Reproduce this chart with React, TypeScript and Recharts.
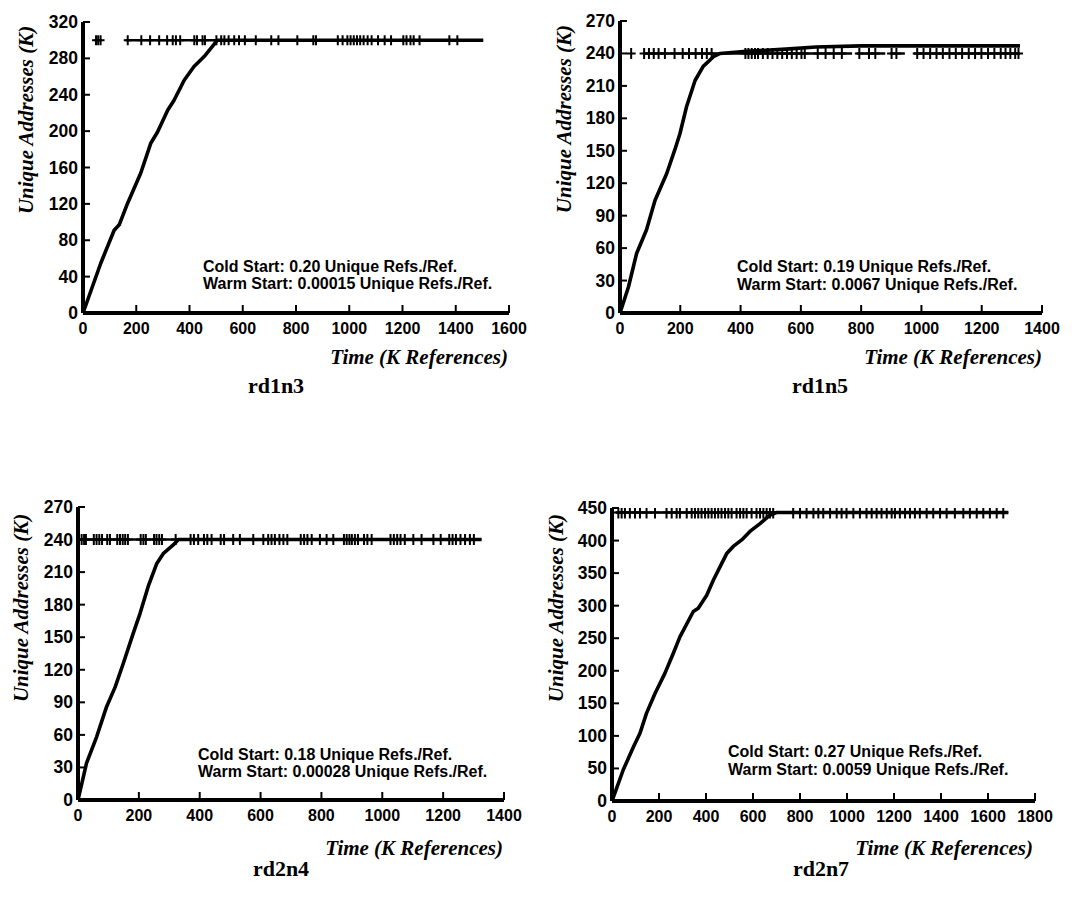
import React from 'react';
import { LineChart, Line, XAxis, YAxis } from 'recharts';

// ---------- rd1n3 ----------
const rd1n3ColdTime = [0, 67, 117, 136, 168, 217, 255, 280, 318, 342, 380, 417, 455, 505, 1503];
const rd1n3ColdAddr = [0, 55, 91, 97, 121, 154, 187, 199, 223, 234, 256, 271, 282, 300, 300];
const rd1n3WarmTime = [49, 57, 66, 168, 219, 252, 286, 316, 337, 349, 365, 418, 428, 449, 458, 501, 519, 531, 547, 568, 586, 608, 649, 707, 734, 805, 865, 875, 957, 975, 993, 1005, 1017, 1029, 1041, 1054, 1069, 1084, 1108, 1133, 1157, 1203, 1215, 1230, 1242, 1264, 1376, 1406];
const rd1n3WarmSegments = [[160, 1503]];
const rd1n3WarmLevel = 300;
const rd1n3XTicks = [0, 200, 400, 600, 800, 1000, 1200, 1400, 1600];
const rd1n3YTicks = [0, 40, 80, 120, 160, 200, 240, 280, 320];

// ---------- rd1n5 ----------
const rd1n5ColdTime = [0, 28, 55, 88, 116, 155, 182, 199, 221, 249, 276, 310, 332, 420, 550, 650, 800, 1327];
const rd1n5ColdAddr = [0, 24, 55, 77, 104, 129, 151, 166, 191, 215, 228, 237, 240, 242, 244, 246, 247, 247];
const rd1n5WarmTime = [37, 80, 96, 112, 128, 149, 181, 208, 229, 251, 272, 288, 304, 416, 426, 437, 448, 458, 474, 490, 506, 522, 538, 554, 570, 586, 602, 613, 656, 682, 709, 736, 794, 826, 847, 901, 917, 986, 1007, 1029, 1050, 1071, 1093, 1114, 1135, 1157, 1178, 1199, 1221, 1242, 1263, 1279, 1295, 1311, 1322];
const rd1n5WarmSegments = [[80, 770], [785, 880], [895, 945], [975, 1327]];
const rd1n5WarmLevel = 240;
const rd1n5XTicks = [0, 200, 400, 600, 800, 1000, 1200, 1400];
const rd1n5YTicks = [0, 30, 60, 90, 120, 150, 180, 210, 240, 270];

// ---------- rd2n4 ----------
const rd2n4ColdTime = [0, 28, 61, 94, 122, 149, 182, 204, 231, 259, 280, 313, 330, 1326];
const rd2n4ColdAddr = [0, 34, 58, 86, 104, 126, 154, 172, 197, 218, 227, 235, 240, 240];
const rd2n4WarmTime = [12, 20, 26, 52, 61, 70, 79, 96, 105, 129, 138, 147, 155, 164, 206, 215, 223, 250, 258, 267, 276, 321, 370, 381, 395, 414, 425, 439, 469, 480, 510, 532, 576, 609, 625, 636, 647, 662, 675, 688, 732, 743, 754, 768, 795, 817, 839, 874, 883, 892, 900, 910, 920, 940, 951, 965, 1027, 1038, 1049, 1060, 1074, 1102, 1129, 1168, 1192, 1220, 1231, 1242, 1257, 1272, 1288, 1301];
const rd2n4WarmSegments = [[5, 1326]];
const rd2n4WarmLevel = 240;
const rd2n4XTicks = [0, 200, 400, 600, 800, 1000, 1200, 1400];
const rd2n4YTicks = [0, 30, 60, 90, 120, 150, 180, 210, 240, 270];

// ---------- rd2n7 ----------
const rd2n7ColdTime = [0, 48, 91, 119, 147, 183, 225, 261, 289, 346, 367, 403, 431, 467, 488, 516, 552, 587, 630, 672, 700, 1686];
const rd2n7ColdAddr = [0, 48, 83, 104, 135, 165, 196, 227, 252, 291, 296, 316, 339, 365, 380, 391, 401, 414, 426, 439, 443, 443];
const rd2n7WarmTime = [27, 41, 55, 76, 98, 119, 147, 183, 232, 254, 275, 289, 318, 339, 353, 367, 381, 396, 410, 424, 438, 452, 466, 481, 495, 509, 530, 545, 559, 573, 594, 615, 630, 644, 658, 672, 686, 771, 800, 828, 857, 878, 899, 928, 956, 977, 998, 1027, 1055, 1083, 1105, 1126, 1147, 1169, 1190, 1204, 1225, 1247, 1268, 1289, 1310, 1339, 1367, 1396, 1424, 1459, 1495, 1523, 1552, 1580, 1608, 1637, 1665];
const rd2n7WarmSegments = [[15, 1686]];
const rd2n7WarmLevel = 443;
const rd2n7XTicks = [0, 200, 400, 600, 800, 1000, 1200, 1400, 1600, 1800];
const rd2n7YTicks = [0, 50, 100, 150, 200, 250, 300, 350, 400, 450];

// ---------- texts ----------
const yTitle = 'Unique Addresses (K)';
const xTitle = 'Time (K References)';
const panelNames = ['rd1n3', 'rd1n5', 'rd2n4', 'rd2n7'];
const coldRates = ['0.20', '0.19', '0.18', '0.27'];
const warmRates = ['0.00015', '0.0067', '0.00028', '0.0059'];

const SANS = "'Liberation Sans', Arial, Helvetica, sans-serif";
const SERIF = "'Liberation Serif', 'Times New Roman', Times, serif";

type Pt = { x: number; y: number | null };

const zip = (xs: number[], ys: number[]): Pt[] => xs.map((x, i) => ({ x, y: ys[i] }));
const marks = (xs: number[], level: number): Pt[] => xs.map((x) => ({ x, y: level }));
const segs = (s: number[][], level: number): Pt[] => {
  const out: Pt[] = [];
  s.forEach((seg, i) => {
    if (i > 0) out.push({ x: (s[i - 1][1] + seg[0]) / 2, y: null });
    out.push({ x: seg[0], y: level });
    out.push({ x: seg[1], y: level });
  });
  return out;
};

const XTick = (p: any) => {
  const { x, y, payload } = p;
  return (
    <g>
      <line x1={x} x2={x} y1={y} y2={y - 8} stroke="#000" strokeWidth={2} />
      <text x={x} y={y + 21} textAnchor="middle" fontFamily={SANS} fontWeight="bold" fontSize={16} fill="#000">
        {payload.value}
      </text>
    </g>
  );
};

const YTick = (p: any) => {
  const { x, y, payload } = p;
  return (
    <g>
      <line x1={x} x2={x + 7} y1={y} y2={y} stroke="#000" strokeWidth={2} />
      <text x={x - 5} y={y + 6} textAnchor="end" fontFamily={SANS} fontWeight="bold" fontSize={17.5} fill="#000">
        {payload.value}
      </text>
    </g>
  );
};

const makePlus = (size: number) => (p: any) => {
  const { cx, cy, index } = p;
  if (cx == null || cy == null) return <g key={`m${index}`} />;
  return (
    <path
      key={`m${index}`}
      d={`M${cx - size},${cy}H${cx + size}M${cx},${cy - size - 1}V${cy + size + 1}`}
      stroke="#000"
      strokeWidth={2}
      fill="none"
    />
  );
};

type PanelProps = {
  left: number; top: number; width: number; height: number;
  plotLeft: number; plotRight: number; plotTop: number; plotBottom: number;
  coldTime: number[]; coldAddr: number[]; warmTime: number[]; warmSegments: number[][]; warmLevel: number;
  xTicks: number[]; yTicks: number[]; markSize: number;
};

const Panel = (p: PanelProps) => {
  const xAxisH = 40;
  const margin = {
    top: p.plotTop - p.top,
    right: p.left + p.width - p.plotRight,
    bottom: p.top + p.height - p.plotBottom - xAxisH,
    left: 0,
  };
  return (
    <div style={{ position: 'absolute', left: p.left, top: p.top, width: p.width, height: p.height }}>
      <LineChart width={p.width} height={p.height} margin={margin}>
        <XAxis
          type="number"
          dataKey="x"
          domain={[p.xTicks[0], p.xTicks[p.xTicks.length - 1]]}
          ticks={p.xTicks}
          interval={0}
          height={xAxisH}
          axisLine={{ stroke: '#000', strokeWidth: 4 }}
          tickLine={false}
          tickSize={0}
          tickMargin={0}
          tick={XTick}
          allowDataOverflow
        />
        <YAxis
          type="number"
          domain={[p.yTicks[0], p.yTicks[p.yTicks.length - 1]]}
          ticks={p.yTicks}
          interval={0}
          width={p.plotLeft - p.left}
          axisLine={{ stroke: '#000', strokeWidth: 4 }}
          tickLine={false}
          tickSize={0}
          tickMargin={0}
          tick={YTick}
          allowDataOverflow
        />
        <Line
          data={segs(p.warmSegments, p.warmLevel)}
          dataKey="y"
          stroke="#000"
          strokeWidth={2.6}
          dot={false}
          activeDot={false}
          connectNulls={false}
          isAnimationActive={false}
          type="linear"
        />
        <Line
          data={zip(p.coldTime, p.coldAddr)}
          dataKey="y"
          stroke="#000"
          strokeWidth={3.6}
          strokeLinejoin="round"
          dot={false}
          activeDot={false}
          isAnimationActive={false}
          type="linear"
        />
        <Line
          data={marks(p.warmTime, p.warmLevel)}
          dataKey="y"
          stroke="none"
          dot={makePlus(p.markSize)}
          activeDot={false}
          isAnimationActive={false}
          type="linear"
        />
      </LineChart>
    </div>
  );
};

const annotations = [
  { x: 203, y1: 272, y2: 289 },
  { x: 737, y1: 272, y2: 290 },
  { x: 198, y1: 760, y2: 777 },
  { x: 728, y1: 757, y2: 775 },
];
const yTitlePos = [
  { x: 33, y: 120 },
  { x: 571, y: 119 },
  { x: 28, y: 608 },
  { x: 563, y: 608 },
];
const xTitlePos = [
  { x: 508, y: 364 },
  { x: 1042, y: 364 },
  { x: 503, y: 855 },
  { x: 1033, y: 855 },
];
const namePos = [
  { x: 276, y: 393 },
  { x: 820, y: 393 },
  { x: 281, y: 876 },
  { x: 821, y: 876 },
];

export default function App() {
  return (
    <div style={{ position: 'absolute', left: 0, top: 0, width: 1086, height: 907, background: '#fff' }}>
      <Panel left={0} top={0} width={540} height={360}
        plotLeft={83} plotRight={509} plotTop={22} plotBottom={313}
        coldTime={rd1n3ColdTime} coldAddr={rd1n3ColdAddr} warmTime={rd1n3WarmTime}
        warmSegments={rd1n3WarmSegments} warmLevel={rd1n3WarmLevel}
        xTicks={rd1n3XTicks} yTicks={rd1n3YTicks} markSize={4} />
      <Panel left={543} top={0} width={543} height={360}
        plotLeft={620} plotRight={1042} plotTop={21} plotBottom={313}
        coldTime={rd1n5ColdTime} coldAddr={rd1n5ColdAddr} warmTime={rd1n5WarmTime}
        warmSegments={rd1n5WarmSegments} warmLevel={rd1n5WarmLevel}
        xTicks={rd1n5XTicks} yTicks={rd1n5YTicks} markSize={4.5} />
      <Panel left={0} top={480} width={540} height={360}
        plotLeft={78} plotRight={504} plotTop={507} plotBottom={800}
        coldTime={rd2n4ColdTime} coldAddr={rd2n4ColdAddr} warmTime={rd2n4WarmTime}
        warmSegments={rd2n4WarmSegments} warmLevel={rd2n4WarmLevel}
        xTicks={rd2n4XTicks} yTicks={rd2n4YTicks} markSize={4.5} />
      <Panel left={543} top={480} width={543} height={362}
        plotLeft={612} plotRight={1035} plotTop={508} plotBottom={801}
        coldTime={rd2n7ColdTime} coldAddr={rd2n7ColdAddr} warmTime={rd2n7WarmTime}
        warmSegments={rd2n7WarmSegments} warmLevel={rd2n7WarmLevel}
        xTicks={rd2n7XTicks} yTicks={rd2n7YTicks} markSize={5} />
      <svg width={1086} height={907} style={{ position: 'absolute', left: 0, top: 0, pointerEvents: 'none' }}>
        {panelNames.map((name, i) => (
          <g key={name}>
            <text
              x={yTitlePos[i].x} y={yTitlePos[i].y}
              transform={`rotate(-90 ${yTitlePos[i].x} ${yTitlePos[i].y})`}
              textAnchor="middle" fontFamily={SERIF} fontStyle="italic" fontWeight="bold" fontSize={21} fill="#000">
              {yTitle}
            </text>
            <text x={xTitlePos[i].x} y={xTitlePos[i].y} textAnchor="end"
              fontFamily={SERIF} fontStyle="italic" fontWeight="bold" fontSize={21} fill="#000">
              {xTitle}
            </text>
            <text x={annotations[i].x} y={annotations[i].y1} fontFamily={SANS} fontWeight="bold" fontSize={16} fill="#000">
              {`Cold Start: ${coldRates[i]} Unique Refs./Ref.`}
            </text>
            <text x={annotations[i].x} y={annotations[i].y2} fontFamily={SANS} fontWeight="bold" fontSize={16} fill="#000">
              {`Warm Start: ${warmRates[i]} Unique Refs./Ref.`}
            </text>
            <text x={namePos[i].x} y={namePos[i].y} textAnchor="middle"
              fontFamily={SERIF} fontWeight="bold" fontSize={22} fill="#000">
              {name}
            </text>
          </g>
        ))}
      </svg>
    </div>
  );
}
